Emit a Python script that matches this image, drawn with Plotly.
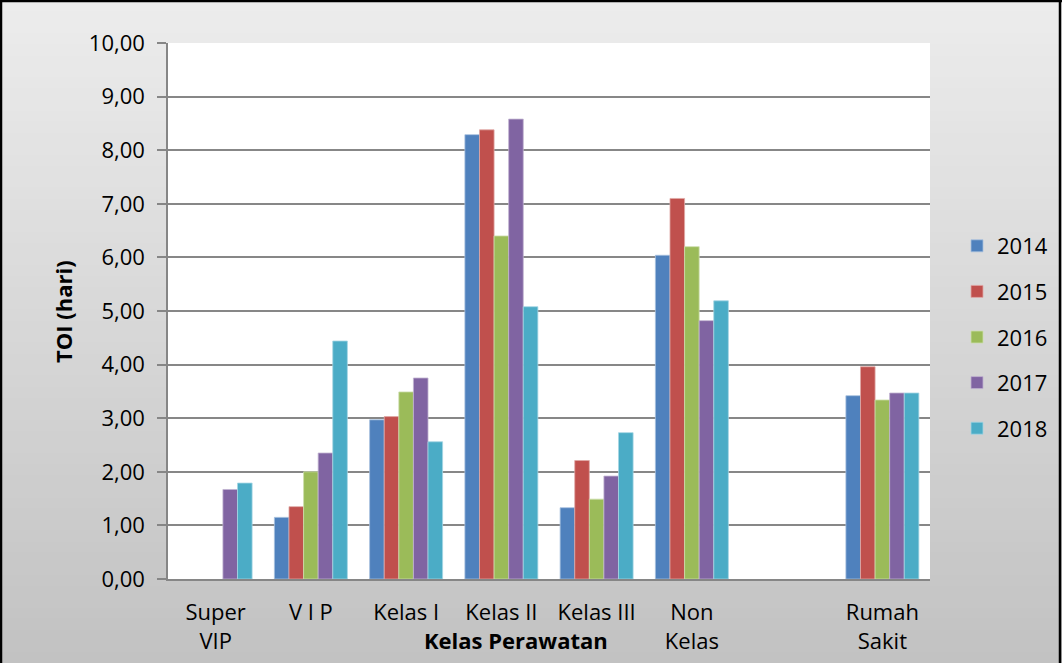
import plotly.graph_objects as go

categories = ["Super<br>VIP", "V I P", "Kelas I", "Kelas II", "Kelas III", "Non<br>Kelas", "", "Rumah<br>Sakit"]
years = ["2014", "2015", "2016", "2017", "2018"]
v2014 = [None, 1.15, 2.97, 8.29, 1.33, 6.04, None, 3.42]
v2015 = [None, 1.35, 3.03, 8.38, 2.21, 7.10, None, 3.96]
v2016 = [None, 2.00, 3.49, 6.40, 1.49, 6.20, None, 3.34]
v2017 = [1.67, 2.35, 3.75, 8.58, 1.92, 4.82, None, 3.47]
v2018 = [1.79, 4.44, 2.56, 5.08, 2.73, 5.19, None, 3.47]
series = [v2014, v2015, v2016, v2017, v2018]
colors = ["#4F81BD", "#C0504D", "#9BBB59", "#8064A2", "#4BACC6"]
edge = ["#a7c0de", "#dfa8a6", "#cddeac", "#c0b2d1", "#a5d6e3"]

W, H = 1062, 663
L, R, T, B = 168, 132, 43, 84
pw, ph = W - L - R, H - T - B

def px(x):
    return (x - L) / pw

def py(y):
    return (H - B - y) / ph

FONT = "Open Sans"
FS = 22
fig = go.Figure()
xs = list(range(len(categories)))
for yr, vals, c, e in zip(years, series, colors, edge):
    fig.add_trace(go.Bar(x=xs, y=vals, name=yr, marker=dict(color=c, line=dict(color=e, width=0.8)),
                         legendgroup=yr))

shapes = []
n = 60
top_c, bot_c = (236, 236, 236), (194, 194, 194)
for i in range(n):
    t = i / (n - 1)
    col = tuple(int(round(top_c[k] + (bot_c[k] - top_c[k]) * t)) for k in range(3))
    y0 = i * H / n
    y1 = (i + 1) * H / n + 1
    shapes.append(dict(type="rect", xref="paper", yref="paper", layer="below",
                       x0=px(0), x1=px(W), y0=py(y1), y1=py(y0),
                       fillcolor="rgb(%d,%d,%d)" % col, line=dict(width=0)))
shapes.append(dict(type="rect", xref="paper", yref="paper", layer="below",
                   x0=0, x1=1, y0=0, y1=1, fillcolor="white", line=dict(width=0)))
# outer border
for (x0, y0, x1, y1) in [(1, 0, 1, H), (0, 1, W, 1), (W - 2, 0, W - 2, H)]:
    shapes.append(dict(type="line", xref="paper", yref="paper", layer="above",
                       x0=px(x0), x1=px(x1), y0=py(y0), y1=py(y1),
                       line=dict(color="black", width=2.5)))

fig.update_layout(
    width=W, height=H,
    margin=dict(l=L, r=R, t=T, b=B, autoexpand=False),
    paper_bgcolor="#d6d6d6",
    plot_bgcolor="white",
    separators=",.",
    barmode="group",
    bargap=0.234,
    bargroupgap=0,
    font=dict(family=FONT, size=FS, color="black"),
    shapes=shapes,
    legend=dict(x=px(957), xanchor="left", y=py(225), yanchor="top",
                bgcolor="rgba(0,0,0,0)", font=dict(size=FS), tracegroupgap=14,
                itemwidth=30),
    xaxis=dict(range=[-0.5, len(categories) - 0.5], tickmode="array", tickvals=xs,
               ticktext=categories, showgrid=False, zeroline=False,
               showline=True, linecolor="#868686", linewidth=1.5,
               ticks="", ticklabelstandoff=13, tickfont=dict(size=FS)),
    yaxis=dict(range=[0, 10], dtick=1, tickformat=".2f", showgrid=True,
               gridcolor="#878787", gridwidth=1.5, zeroline=False,
               showline=True, linecolor="#868686", linewidth=1.5,
               ticks="outside", ticklen=9, tickcolor="#868686", tickwidth=1.5,
               ticklabelstandoff=8, tickfont=dict(size=FS)),
    annotations=[
        dict(text="<b>Kelas Perawatan</b>", xref="paper", yref="paper",
             x=px(516), y=py(640), xanchor="center", yanchor="middle",
             showarrow=False, font=dict(size=FS)),
        dict(text="<b>TOI (hari)</b>", xref="paper", yref="paper",
             x=px(63), y=py(312), xanchor="center", yanchor="middle",
             showarrow=False, textangle=-90, font=dict(size=FS)),
    ],
)

fig.write_html("out.html")
